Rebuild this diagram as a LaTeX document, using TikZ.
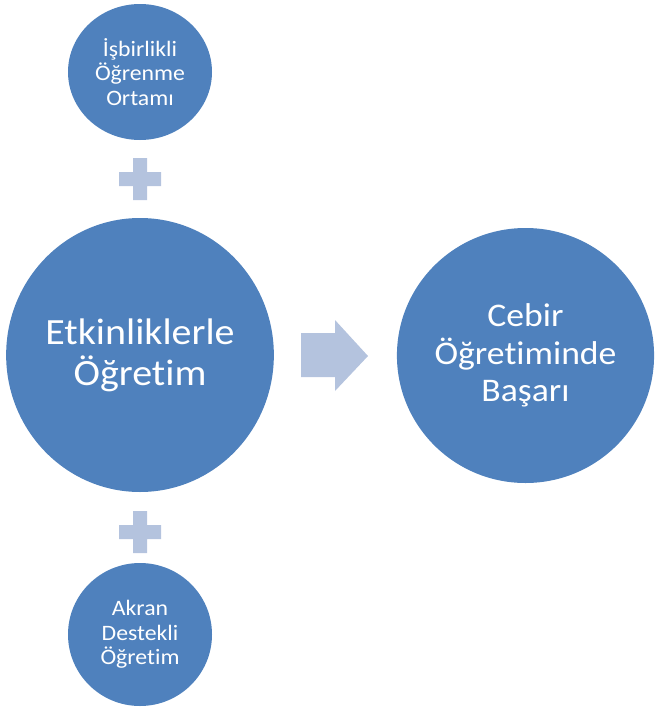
\documentclass[tikz,border=0pt]{standalone}
\usepackage{fontspec}
\setmainfont{Carlito}[Ligatures=NoCommon, FakeStretch=1.08]
\usetikzlibrary{shapes.geometric, positioning}
\definecolor{circleblue}{RGB}{79,129,189}
\definecolor{paleblue}{RGB}{180,195,222}

\tikzset{
    plussign/.pic={
        \fill[paleblue] (-21,-7) rectangle (21,7) (-7,-21) rectangle (7,21);
    }
}

\begin{document}
\begin{tikzpicture}[
    x=1pt, y=-1pt,
    bubble/.style={ellipse, fill=circleblue, text=white, align=center, inner sep=0pt},
    smallbubble/.style={bubble, minimum width=144pt, minimum height=136pt, font=\fontsize{22}{24.5}\selectfont},
    bigbubble/.style={bubble, minimum width=258pt, minimum height=274pt, font=\fontsize{37}{41}\selectfont},
    goalbubble/.style={bubble, minimum width=257pt, minimum height=255pt, font=\fontsize{33}{37.5}\selectfont},
]
\useasboundingbox (0,0) rectangle (654,707);

% Left column: inputs
\node[smallbubble] (ortam) at (140,72) {İşbirlikli\\Öğrenme\\Ortamı};
\node[bigbubble] (etkinlik) at (140,355) {Etkinliklerle\\Öğretim};
\node[smallbubble, minimum height=143pt] (akran) at (140,634.5) {Akran\\Destekli\\Öğretim};

% Right: outcome
\node[goalbubble] (basari) at (525.5,355.5) {Cebir\\Öğretiminde\\Başarı};

% Plus signs
\coordinate (plustop) at (140,179);
\coordinate (plusbottom) at (140,532);
\pic at (plustop) {plussign};
\pic at (plusbottom) {plussign};

% Block arrow
\fill[paleblue] (301,333) -- (335,333) -- (335,320) -- (368,356)
    -- (335,391) -- (335,377) -- (301,377) -- cycle;

\end{tikzpicture}
\end{document}
